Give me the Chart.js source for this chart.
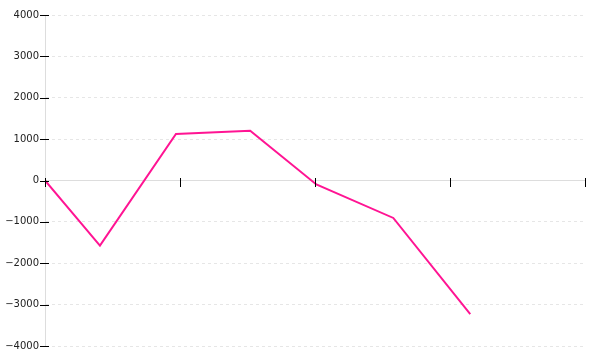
<!DOCTYPE html>
<html>
<head>
<meta charset="utf-8">
<script src="https://cdn.jsdelivr.net/npm/chart.js@4/dist/chart.umd.min.js"></script>
<style>
  html, body { margin: 0; padding: 0; background: #fff; }
  #wrap { width: 600px; height: 360px; }
</style>
</head>
<body>
<div id="wrap"><canvas id="lineChart" width="600" height="360"></canvas></div>
<script>
// values
const xValues = [0, 0.407, 0.97, 1.52, 2.01, 2.58, 3.15];
const yValues = [0, -1575, 1125, 1205, -95, -905, -3230];
const yTicks = [-4000, -3000, -2000, -1000, 0, 1000, 2000, 3000, 4000];
const xTicks = [0, 1, 2, 3, 4];

const points = xValues.map((x, i) => ({ x: x, y: yValues[i] }));

// black tick marks that cross the axis lines
const tickMarks = {
    id: 'tickMarks',
    afterDraw(chart) {
        const c = chart.ctx;
        const xs = chart.scales.x, ys = chart.scales.y;
        const left = chart.chartArea.left;
        const zeroY = ys.getPixelForValue(0);
        c.save();
        c.strokeStyle = '#000';
        c.lineWidth = 1;
        c.beginPath();
        yTicks.forEach(v => {
            const y = Math.round(ys.getPixelForValue(v)) + 0.5;
            c.moveTo(left - 5, y);
            c.lineTo(left + 4, y);
        });
        xTicks.forEach(v => {
            const x = Math.round(xs.getPixelForValue(v)) + 0.5;
            c.moveTo(x, Math.round(zeroY) - 3);
            c.lineTo(x, Math.round(zeroY) + 6);
        });
        c.stroke();
        c.restore();
    }
};

const ctx = document.getElementById('lineChart').getContext('2d');
const lineChart = new Chart(ctx, {
    type: 'line',
    data: {
        datasets: [{
            data: points,
            borderColor: '#ff1493',
            borderWidth: 2,
            pointRadius: 0,
            tension: 0,
            fill: false
        }]
    },
    options: {
        responsive: false,
        animation: false,
        layout: { padding: { top: 15, right: 15, bottom: 14, left: 0 } },
        plugins: { legend: { display: false }, tooltip: { enabled: false } },
        scales: {
            x: {
                type: 'linear',
                position: { y: 0 },
                min: 0,
                max: 4,
                ticks: { display: false, stepSize: 1 },
                grid: { drawOnChartArea: false, drawTicks: false },
                border: { color: '#dddddd' }
            },
            y: {
                min: -4000,
                max: 4000,
                afterFit(scale) { scale.width = 45; },
                afterBuildTicks(scale) { scale.ticks = yTicks.map(v => ({ value: v })); },
                ticks: {
                    padding: 6,
                    color: '#222',
                    font: { family: 'DejaVu Sans', size: 10 },
                    callback: v => (v < 0 ? '\u2212' + Math.abs(v) : String(v))
                },
                grid: { color: '#e6e6e6', drawTicks: false },
                border: { color: '#dddddd', dash: [3, 3] }
            }
        }
    },
    plugins: [tickMarks]
});
</script>
</body>
</html>
